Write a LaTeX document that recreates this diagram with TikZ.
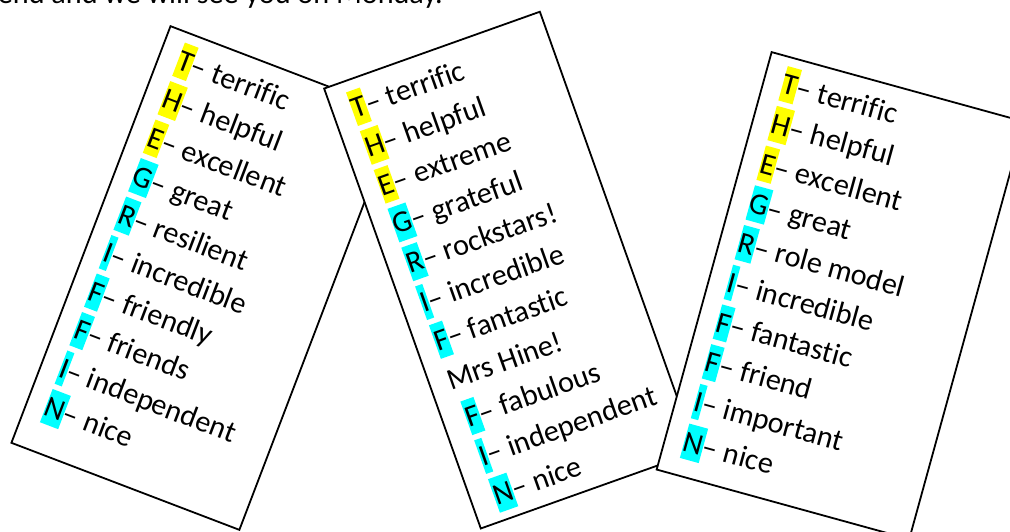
\documentclass[tikz,border=0pt]{standalone}
\usepackage{fontspec}
\setmainfont{Carlito}[Ligatures=NoCommon]
\definecolor{hlY}{HTML}{FFFF00}
\definecolor{hlC}{HTML}{00FFFF}
\newcommand\hlbox[2]{{\setlength\fboxsep{0pt}\colorbox{#1}{\rule[-7.9pt]{0pt}{35.6pt}#2}}}
\tikzset{
  card/.style={draw=black, fill=white, line width=1.8pt, inner sep=0pt, anchor=north west},
  cardline/.style={anchor=base west, inner sep=0pt, font=\fontsize{30.2}{35}\selectfont},
}
\begin{document}
\begin{tikzpicture}[x=1pt, y=-1pt]
\useasboundingbox (0,0) rectangle (1010,531);
\clip (0,0) rectangle (1010,531);
\fill[white] (0,0) rectangle (1010,531);
% top text (cut off)
\node[cardline, anchor=base east] (toptext) at (443,3) {kend and we will see you on Monday.};
% card 1
\begin{scope}[shift={(170,25)}, rotate=-20.9, transform shape]
\node[card, minimum width=244pt, minimum height=446pt] (card1) at (0,0) {};
\node[cardline] (a1) at (20,38.8) {\hlbox{hlY}{T}– terrific};
\node[cardline] (a2) at (20,80.0) {\hlbox{hlY}{H}– helpful};
\node[cardline] (a3) at (20,121.2) {\hlbox{hlY}{E}– excellent};
\node[cardline] (a4) at (20,162.4) {\hlbox{hlC}{G}– great};
\node[cardline] (a5) at (20,203.6) {\hlbox{hlC}{R}– resilient};
\node[cardline] (a6) at (20,244.8) {\hlbox{hlC}{I}– incredible};
\node[cardline] (a7) at (20,286.0) {\hlbox{hlC}{F}– friendly};
\node[cardline] (a8) at (20,327.2) {\hlbox{hlC}{F}– friends};
\node[cardline] (a9) at (20,368.4) {\hlbox{hlC}{I}– independent};
\node[cardline] (a10) at (20,409.6) {\hlbox{hlC}{N}– nice};
\end{scope}
% card 2
\begin{scope}[shift={(323,88)}, rotate=19.6, transform shape]
\node[card, minimum width=229pt, minimum height=467pt] (card2) at (0,0) {};
\node[cardline] (b1) at (20,39.6) {\hlbox{hlY}{T}– terrific};
\node[cardline] (b2) at (20,80.8) {\hlbox{hlY}{H}– helpful};
\node[cardline] (b3) at (20,122.0) {\hlbox{hlY}{E}– extreme};
\node[cardline] (b4) at (20,163.2) {\hlbox{hlC}{G}– grateful};
\node[cardline] (b5) at (20,204.4) {\hlbox{hlC}{R}– rockstars!};
\node[cardline] (b6) at (20,245.6) {\hlbox{hlC}{I}– incredible};
\node[cardline] (b7) at (20,286.8) {\hlbox{hlC}{F}– fantastic};
\node[cardline] (b8) at (19,328.0) {Mrs Hine!};
\node[cardline] (b9) at (24,369.2) {\hlbox{hlC}{F}– fabulous};
\node[cardline] (b10) at (24,410.4) {\hlbox{hlC}{I}– independent};
\node[cardline] (b11) at (24,451.6) {\hlbox{hlC}{N}– nice};
\end{scope}
% card 3
\begin{scope}[shift={(771,51)}, rotate=-15.4, transform shape]
\node[card, minimum width=262pt, minimum height=433pt] (card3) at (0,0) {};
\node[cardline] (c1) at (20,37.8) {\hlbox{hlY}{T}– terrific};
\node[cardline] (c2) at (20,79.0) {\hlbox{hlY}{H}– helpful};
\node[cardline] (c3) at (20,120.2) {\hlbox{hlY}{E}– excellent};
\node[cardline] (c4) at (20,161.4) {\hlbox{hlC}{G}– great};
\node[cardline] (c5) at (20,202.6) {\hlbox{hlC}{R}– role model};
\node[cardline] (c6) at (20,243.8) {\hlbox{hlC}{I}– incredible};
\node[cardline] (c7) at (20,285.0) {\hlbox{hlC}{F}– fantastic};
\node[cardline] (c8) at (20,326.2) {\hlbox{hlC}{F}– friend};
\node[cardline] (c9) at (20,367.4) {\hlbox{hlC}{I}– important};
\node[cardline] (c10) at (20,408.6) {\hlbox{hlC}{N}– nice};
\end{scope}
\end{tikzpicture}
\end{document}
